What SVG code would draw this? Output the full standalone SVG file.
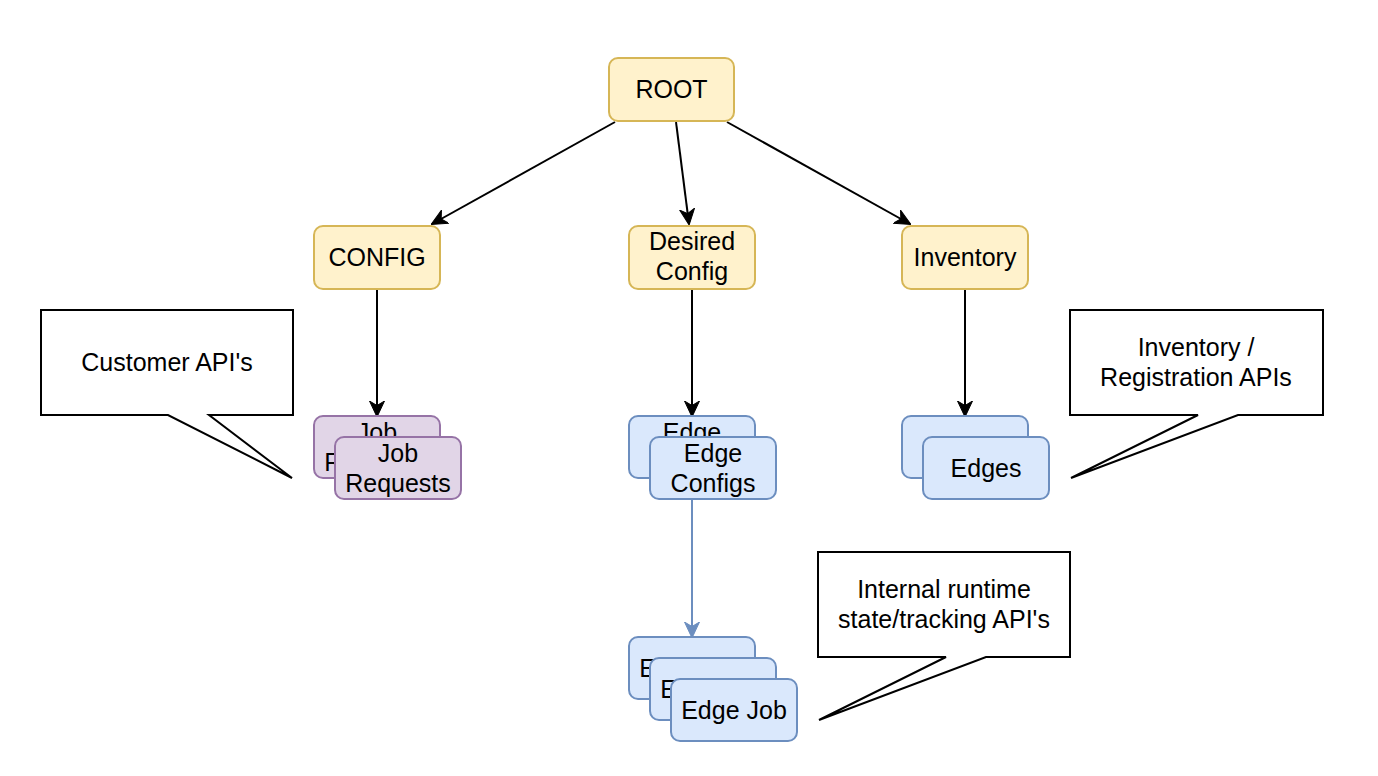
<svg xmlns="http://www.w3.org/2000/svg" width="1378" height="776" viewBox="0 0 1378 776">
<defs>
<style>
text{font-family:"Liberation Sans",Arial,sans-serif;font-size:25px;fill:#000;text-anchor:middle}
.y{fill:#fff2cc;stroke:#d6b656;stroke-width:2}
.p{fill:#e1d5e7;stroke:#9673a6;stroke-width:2}
.b{fill:#dae8fc;stroke:#6c8ebf;stroke-width:2}
.c{fill:#fff;stroke:#000;stroke-width:2;stroke-linejoin:miter}
.e{fill:none;stroke:#000;stroke-width:2}
.eb{fill:none;stroke:#6c8ebf;stroke-width:2}
</style>
<marker id="ah" viewBox="0 0 16 16" refX="15" refY="8" markerWidth="16" markerHeight="16" markerUnits="userSpaceOnUse" orient="auto">
<path d="M0,0.5 L16,8 L0,15.5 L4.5,8 Z" fill="#000" stroke="#000" stroke-width="1"/>
</marker>
<marker id="ahb" viewBox="0 0 16 16" refX="15" refY="8" markerWidth="16" markerHeight="16" markerUnits="userSpaceOnUse" orient="auto">
<path d="M0,0.5 L16,8 L0,15.5 L4.5,8 Z" fill="#6c8ebf" stroke="#6c8ebf" stroke-width="1"/>
</marker>
</defs>
<rect width="1378" height="776" fill="#fff"/>
<g id="connectors">
<path class="e" d="M615,122 L432,224" marker-end="url(#ah)"/>
<path class="e" d="M676,122 L689,224" marker-end="url(#ah)"/>
<path class="e" d="M727,122 L910,224" marker-end="url(#ah)"/>
<path class="e" d="M377,289 L377,416" marker-end="url(#ah)"/>
<path class="e" d="M692,289 L692,416" marker-end="url(#ah)"/>
<path class="e" d="M965,289 L965,416" marker-end="url(#ah)"/>
<path class="eb" d="M692,499 L692,637" marker-end="url(#ahb)"/>
</g>
<g id="root"><rect class="y" x="609" y="58" width="125" height="63" rx="9"/><text x="671.5" y="98">ROOT</text></g>
<g id="config"><rect class="y" x="314" y="226" width="126" height="63" rx="9"/><text x="377" y="266">CONFIG</text></g>
<g id="desired"><rect class="y" x="629" y="226" width="126" height="63" rx="9"/><text x="692" y="250">Desired</text><text x="692" y="280">Config</text></g>
<g id="inventory"><rect class="y" x="902" y="226" width="126" height="63" rx="9"/><text x="965" y="266">Inventory</text></g>
<g id="jobrequests">
<rect class="p" x="314" y="416" width="126" height="62" rx="9"/><text x="377" y="441">Job</text><text x="377" y="471">Requests</text>
<rect class="p" x="335" y="437" width="126" height="62" rx="9"/><text x="398" y="462">Job</text><text x="398" y="492">Requests</text>
</g>
<g id="edgeconfigs">
<rect class="b" x="629" y="416" width="126" height="62" rx="9"/><text x="692" y="441">Edge</text><text x="692" y="471">Configs</text>
<rect class="b" x="650" y="437" width="126" height="62" rx="9"/><text x="713" y="462">Edge</text><text x="713" y="492">Configs</text>
</g>
<g id="edges">
<rect class="b" x="902" y="416" width="126" height="62" rx="9"/><text x="965" y="456">Edges</text>
<rect class="b" x="923" y="437" width="126" height="62" rx="9"/><text x="986" y="477">Edges</text>
</g>
<g id="edgejob">
<rect class="b" x="629" y="637" width="126" height="62" rx="9"/><text x="692" y="677">Edge Job</text>
<rect class="b" x="650" y="658" width="126" height="62" rx="9"/><text x="713" y="698">Edge Job</text>
<rect class="b" x="671" y="679" width="126" height="62" rx="9"/><text x="734" y="719">Edge Job</text>
</g>
<g id="callout-customer">
<path class="c" d="M41,310 L293,310 L293,415 L209,415 L292,478 L168,415 L41,415 Z"/>
<text x="167" y="371">Customer API's</text>
</g>
<g id="callout-inventory">
<path class="c" d="M1070,310 L1323,310 L1323,415 L1238,415 L1071,478 L1198,415 L1070,415 Z"/>
<text x="1196" y="356">Inventory /</text><text x="1196" y="386">Registration APIs</text>
</g>
<g id="callout-internal">
<path class="c" d="M818,552 L1070,552 L1070,657 L986,657 L819,720 L946,657 L818,657 Z"/>
<text x="944" y="598">Internal runtime</text><text x="944" y="628">state/tracking API's</text>
</g>
</svg>
